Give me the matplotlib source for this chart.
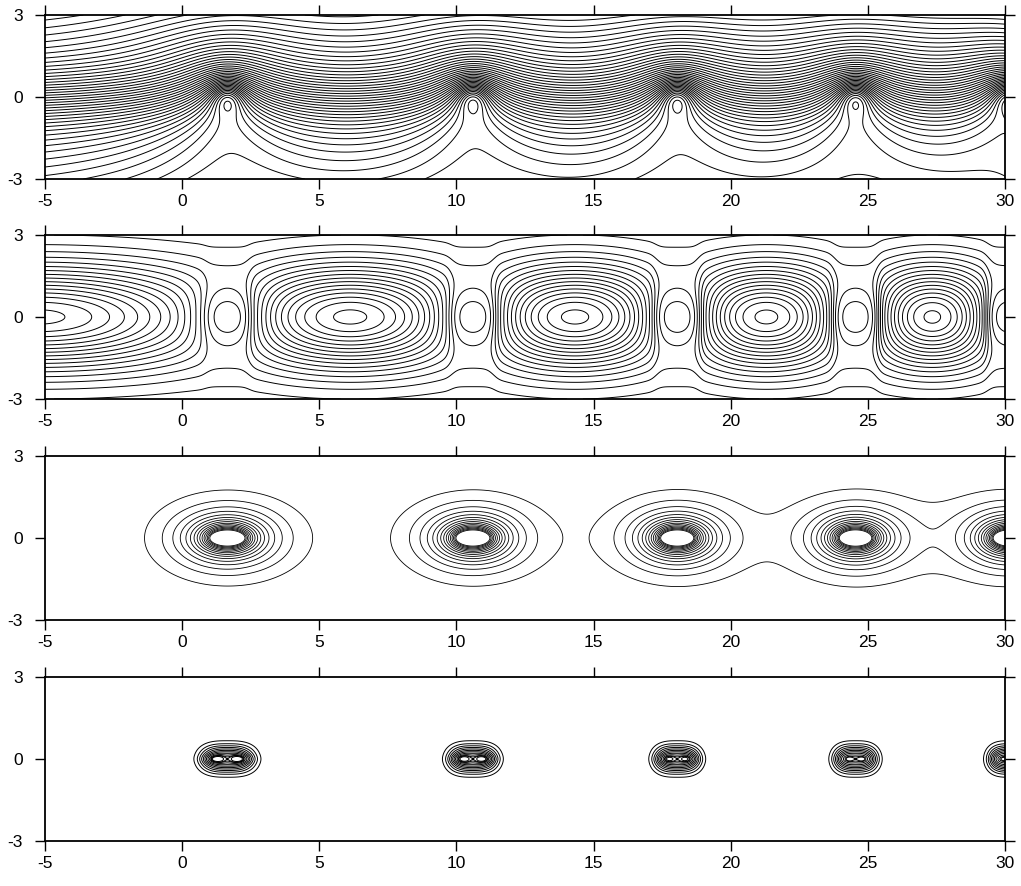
import numpy as np
import matplotlib
matplotlib.use("Agg")
import matplotlib.pyplot as plt

plt.rcParams["font.family"] = ["Liberation Sans", "DejaVu Sans"]
plt.rcParams["axes.unicode_minus"] = False

# === Row of cores along y = 0 and the cells between them ===
core_x = [1.65, 10.6, 18.05, 24.55, 30.15]
cell_x = [-5.2, 6.1, 14.35, 21.3, 27.3]
core_halfwidth = [1.21, 1.10, 1.03, 0.97, 0.93]
lobe_depth = [0.25, 0.22, 0.17, 0.10, 0.08]

x_ticks = [-5, 0, 5, 10, 15, 20, 25, 30]
y_ticks = [-3, 0, 3]

# === Grid ===
x = np.linspace(-5, 30, 1400)
y = np.linspace(-3, 3, 420)
X, Y = np.meshgrid(x, y)
cx = np.array(core_x)

# Bessel K0 / K1 lookup tables
r_tab = np.linspace(1e-4, 40, 8000)
tt = np.linspace(0, 8, 800)
ekern = np.exp(-r_tab[:, None] * np.cosh(tt)[None, :])
k0_tab = np.trapezoid(ekern, tt, axis=1)
k1_tab = np.trapezoid(ekern * np.cosh(tt)[None, :], tt, axis=1)


def k0(r):
    return np.interp(r, r_tab, k0_tab)


# === Panel 1: stream function, jet + screened Gaussian-core vortices ===
jet_amp, jet_w, drift = 3.0, 1.3, 0.8
swirl, core_r, screen = 2.33, 0.43, 4.0
dG = (1 - np.exp(-(r_tab / core_r) ** 2)) / r_tab * (r_tab / screen) * np.interp(r_tab / screen, r_tab, k1_tab)
G = np.concatenate([[0], np.cumsum(0.5 * (dG[1:] + dG[:-1]) * np.diff(r_tab))])
G -= G[-1]
psi = jet_amp * np.tanh(Y / jet_w) + drift * Y
for c in core_x:
    psi += swirl * np.interp(np.hypot(X - c, Y), r_tab, G)
span = psi[-1, 0] - psi[0, 0]
d1 = span / 38.0
near = (np.abs(X - core_x[0]) < 1.0) & (np.abs(Y + 0.4) < 0.5)
p0 = psi[near].min()
lev1 = p0 + d1 * (np.arange(int((psi.min() - p0) / d1) - 2, int((psi.max() - p0) / d1) + 2) + 0.3)

# === Panel 2: cells between the cores ===
knots = np.array([2 * cell_x[0] - core_x[0]] + core_x + [2 * core_x[-1] - cell_x[-1]])
idx = np.clip(np.searchsorted(knots, x) - 1, 0, len(knots) - 2)
t = (x - knots[idx]) / (knots[idx + 1] - knots[idx])
cell = 0.55 * np.sin(np.pi * t) ** 1.3
dist = np.min(np.abs(x[:, None] - cx[None, :]), axis=1)
gate = 1 - np.exp(-(dist / 0.8) ** 5)
F2 = 0.29 * np.exp(-(Y / 2.2) ** 2) + (cell * gate)[None, :] * np.exp(-(Y / 1.75) ** 2)
for c in core_x:
    F2 -= 0.253 * np.exp(-(X - c) ** 2 / 1.6 - Y ** 2 / 1.283)
lev2 = 0.074 + 0.05 * np.arange(-1, 18)

# === Panel 3: screened potential of each core (short segment source) ===
lam, ey, seg = 1.35, 0.59, 0.45
F3 = np.zeros_like(X)
for c, hw in zip(core_x, core_halfwidth):
    sx = (hw / core_halfwidth[0]) ** 0.4
    for s in np.linspace(-seg, seg, 25):
        F3 += k0(np.sqrt(((X - c - s * sx) / sx) ** 2 + (Y / ey) ** 2) / lam) / 25
lev3 = 0.088 + 0.071 * np.arange(15)

# === Panel 4: flat-sided cores with two thin lobes on the axis ===
F4 = np.zeros_like(X)
for c, hw, dep in zip(core_x, core_halfwidth, lobe_depth):
    u = (X - c) / (hw / 1.321)
    w = (X - c) / (0.4 * hw)
    base = np.exp(-np.abs(u) ** 3) * np.exp(-(Y / 0.44) ** 2)
    lobes = dep * w ** 2 * np.exp(1 - w ** 2) * np.exp(-(Y / 0.15) ** 2)
    F4 += base + lobes
lev4 = [0.1, 0.2, 0.3, 0.4, 0.5, 0.6, 0.7, 0.8, 0.9, 0.97, 1.0, 1.05]

# === Figure ===
fig = plt.figure(figsize=(10.21, 8.86), dpi=100)
bottoms = [0.798, 0.5497, 0.3002, 0.0508]
fields = [(psi, lev1, 0.7), (F2, lev2, 0.7), (F3, lev3, 0.6), (F4, lev4, 0.7)]
for b, (F, lev, lw) in zip(bottoms, fields):
    ax = fig.add_axes([45 / 1021, b, 960 / 1021, 0.1851])
    ax.contour(X, Y, F, levels=lev, colors="black", linewidths=lw, linestyles="solid")
    ax.set_xlim(-5, 30)
    ax.set_ylim(-3, 3)
    ax.set_xticks(x_ticks)
    ax.set_yticks(y_ticks)
    ax.tick_params(direction="out", length=7, width=1, top=True, right=True,
                   labelsize=12.5, colors="black")
    ax.tick_params(axis="x", pad=4)
    ax.tick_params(axis="y", pad=9)
    for sp in ax.spines.values():
        sp.set_linewidth(1.3)

fig.savefig("out.png", dpi=100)
